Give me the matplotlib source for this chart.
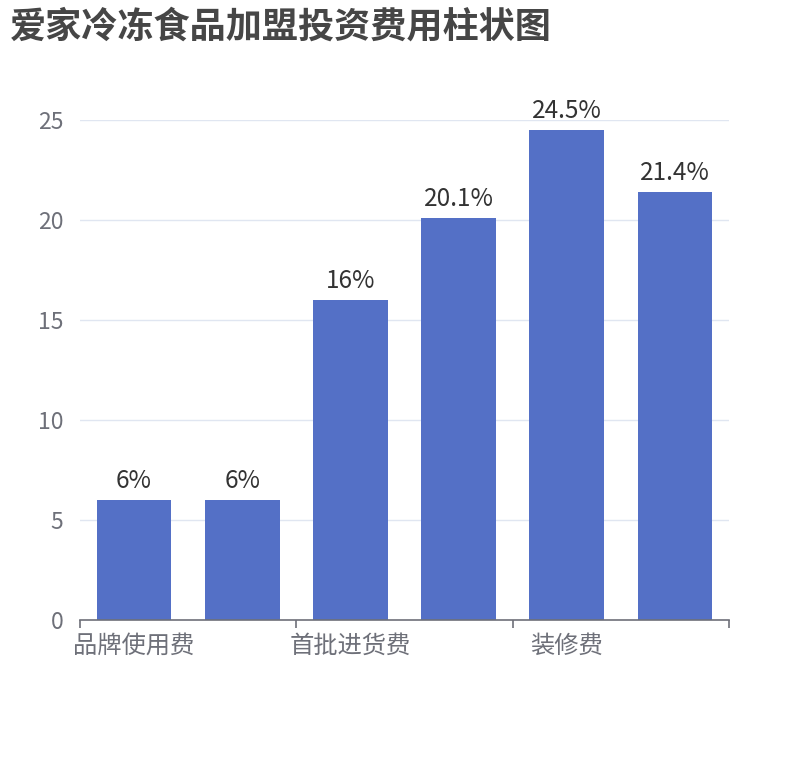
import matplotlib
matplotlib.use("Agg")
import matplotlib.pyplot as plt

plt.rcParams['font.family'] = ['Noto Sans CJK SC', 'DejaVu Sans']

categories = ["品牌使用费", "加盟费", "首批进货费", "保证金", "装修费", "其他费用"]
values = [6, 6, 16, 20.1, 24.5, 21.4]
value_labels = ["6%", "6%", "16%", "20.1%", "24.5%", "21.4%"]
yticks = [0, 5, 10, 15, 20, 25]
title = "爱家冷冻食品加盟投资费用柱状图"

W, H = 810, 760
fig = plt.figure(figsize=(W / 100, H / 100), dpi=100)
ax = fig.add_axes([80 / W, (H - 620) / H, (729 - 80) / W, 500 / H])

x = list(range(len(categories)))
bars = ax.bar(x, values, width=0.69, color="#5470c6", zorder=3)
for xi, v, lab in zip(x, values, value_labels):
    ax.annotate(lab, (xi, v), xytext=(0, 4), textcoords="offset points",
                ha="center", va="bottom", fontsize=17.5, color="#333333")

ax.set_xlim(-0.5, len(categories) - 0.5)
ax.set_ylim(0, 25)
ax.set_yticks(yticks)
ax.set_yticklabels([str(t) for t in yticks], fontsize=16.5, color="#6E7079")
ax.tick_params(axis="y", length=0, pad=12)
for t in yticks[1:]:
    ax.axhline(t, color="#E0E6F1", lw=1, zorder=1)

ax.set_xticks([i - 0.5 for i in range(0, len(categories) + 1, 2)])
ax.set_xticklabels([])
ax.tick_params(axis="x", length=6, width=1.2, color="#6E7079")
for i in range(0, len(categories), 2):
    ax.text(i, -0.025, categories[i], transform=ax.get_xaxis_transform(),
            ha="center", va="top", fontsize=17.5, color="#6E7079")

for s in ["top", "right", "left"]:
    ax.spines[s].set_visible(False)
ax.spines["bottom"].set_color("#6E7079")
ax.spines["bottom"].set_linewidth(1.2)
ax.spines["bottom"].set_zorder(4)

fig.text(10 / W, 1 - 27 / H, title, fontsize=26, fontweight="bold",
         color="#464646", ha="left", va="center")

fig.savefig("out.png", dpi=100)
